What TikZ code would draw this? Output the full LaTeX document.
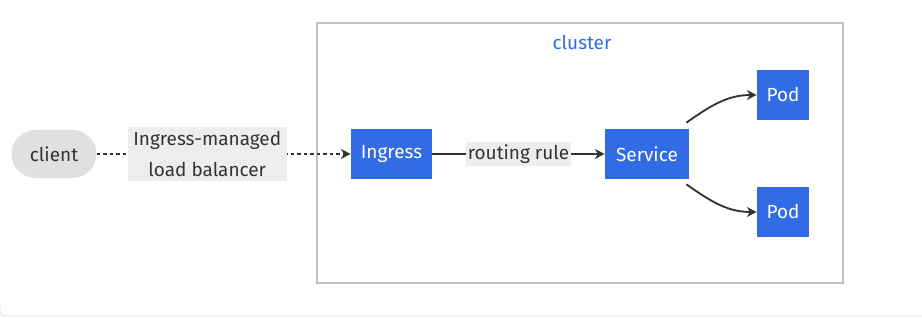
\documentclass[tikz,border=0pt]{standalone}
\usepackage{fontspec}
\setmainfont{Fira Sans}
\usetikzlibrary{arrows.meta, shapes.geometric, positioning}

\definecolor{kblue}{HTML}{326CE5}
\definecolor{kgray}{HTML}{C0C0C0}
\definecolor{ktext}{HTML}{333333}

\begin{document}
\begin{tikzpicture}[
    x=0.025cm, y=-0.025cm,
    font=\fontsize{13.5}{22}\selectfont,
    comp/.style={fill=kblue, text=white, inner sep=0pt, minimum height=1.25cm},
    pill/.style={fill=black!12, text=ktext, rounded corners=0.6cm, inner sep=0pt,
                 minimum width=2.125cm, minimum height=1.2cm},
    lbl/.style={fill=black!7, text=ktext, inner xsep=1pt, inner ysep=2pt, align=center},
    flow/.style={-{Stealth[length=7pt, width=7pt]}, line width=1.3pt, ktext},
    frame/.style={draw=kgray, line width=1.5pt}
]
\useasboundingbox (0,0) rectangle (922,319);

% cluster frame
\draw[frame] (317,23) rectangle (843,283);
\node[text=kblue] (title) at (582,43) {cluster};

% nodes
\node[pill] (client) at (54,154) {client};
\node[comp, minimum width=2.025cm] (ingress) at (391.5,154) {Ingress};
\node[comp, minimum width=2.1cm] (service) at (647,154) {Service};
\node[comp, minimum width=1.3cm] (podA) at (783,95) {Pod};
\node[comp, minimum width=1.3cm] (podB) at (783,212) {Pod};

% connectors
\draw[flow, dash pattern=on 2.4pt off 2.2pt, line width=1.6pt] (client) -- node[lbl, pos=0.435, inner xsep=4pt, inner ysep=3pt]{Ingress-managed\\load balancer} (ingress);
\draw[flow] (ingress) -- node[lbl]{routing rule} (service);
\draw[flow] (service.north east) ++(-3,-6) coordinate (sa) to[out=35, in=180] (podA.west);
\draw[flow] (service.south east) ++(-3,5) coordinate (sb) to[out=-35, in=180] (podB.west);

% card edge
\draw[black!15, rounded corners=3pt] (0,305) -- (0,316) -- (922,316);

\end{tikzpicture}
\end{document}
